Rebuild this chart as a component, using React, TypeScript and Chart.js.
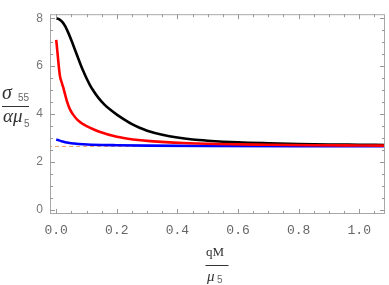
import React, { useEffect, useRef } from 'react';
import { Chart, registerables } from 'chart.js';

Chart.register(...registerables);

const blackX = [0, 0.01, 0.02, 0.03, 0.04, 0.05, 0.06, 0.07, 0.08, 0.09, 0.1, 0.11, 0.12, 0.14, 0.16, 0.18, 0.2, 0.225, 0.25, 0.275, 0.3, 0.35, 0.4, 0.45, 0.5, 0.6, 0.7, 0.8, 0.9, 1.0, 1.085];
const blackY = [8.0, 7.96, 7.85, 7.66, 7.39, 7.08, 6.75, 6.41, 6.08, 5.77, 5.49, 5.24, 5.02, 4.66, 4.38, 4.16, 3.97, 3.76, 3.57, 3.42, 3.3, 3.13, 3.01, 2.93, 2.88, 2.81, 2.77, 2.74, 2.72, 2.71, 2.7];

const redX = [0, 0.004, 0.008, 0.0125, 0.018, 0.023, 0.03, 0.035, 0.045, 0.056, 0.07, 0.089, 0.115, 0.145, 0.2, 0.254, 0.31, 0.42, 0.53, 0.7, 0.85, 1.0, 1.085];
const redY = [7.1, 6.6, 6.05, 5.57, 5.32, 5.12, 4.78, 4.55, 4.2, 3.97, 3.75, 3.57, 3.4, 3.24, 3.04, 2.93, 2.86, 2.78, 2.74, 2.71, 2.69, 2.68, 2.675];

const blueX = [0, 0.02, 0.035, 0.06, 0.09, 0.15, 0.2, 0.3, 0.5, 0.8, 1.085];
const blueY = [2.93, 2.85, 2.8, 2.76, 2.73, 2.7, 2.69, 2.675, 2.66, 2.65, 2.645];

const asymX = [-0.05, 1.2];
const asymY = [2.64, 2.64];

const xTicks = [0, 0.2, 0.4, 0.6, 0.8, 1.0];
const yTicks = [0, 2, 4, 6, 8];
const xMinorStep = 0.05;
const yMinorStep = 0.5;

const X_MIN = -0.0205;
const X_MAX = 1.085;
const Y_MIN = -0.188;
const Y_MAX = 8.172;

const pts = (xs: number[], ys: number[]) => xs.map((x, i) => ({ x, y: ys[i] }));

const framePlugin = {
  id: 'frameTicks',
  afterDatasetsDraw(chart: any) {
    const { ctx, chartArea } = chart;
    const xs = chart.scales.x;
    const ys = chart.scales.y;
    const { left, right, top, bottom } = chartArea;
    ctx.save();
    ctx.strokeStyle = '#a8a8a8';
    ctx.lineWidth = 1;
    ctx.strokeRect(left + 0.5, top + 0.5, right - left - 1, bottom - top - 1);
    ctx.strokeStyle = '#999';
    ctx.beginPath();
    for (let v = 0; v <= X_MAX + 1e-9; v += xMinorStep) {
      const major = Math.abs(v / 0.2 - Math.round(v / 0.2)) < 1e-6;
      const len = major ? 5 : 3;
      const px = Math.round(xs.getPixelForValue(v)) + 0.5;
      ctx.moveTo(px, bottom);
      ctx.lineTo(px, bottom - len);
      ctx.moveTo(px, top);
      ctx.lineTo(px, top + len);
    }
    for (let v = 0; v <= Y_MAX + 1e-9; v += yMinorStep) {
      const major = Math.abs(v / 2 - Math.round(v / 2)) < 1e-6;
      const len = major ? 5 : 3;
      const py = Math.round(ys.getPixelForValue(v)) + 0.5;
      ctx.moveTo(left, py);
      ctx.lineTo(left + len, py);
      ctx.moveTo(right, py);
      ctx.lineTo(right - len, py);
    }
    ctx.stroke();
    ctx.restore();
  },
  afterDraw(chart: any) {
    const { ctx } = chart;
    ctx.save();
    ctx.fillStyle = '#333';
    ctx.strokeStyle = '#333';
    ctx.lineWidth = 1;
    ctx.textBaseline = 'alphabetic';
    // y title: sigma_55 / alpha mu_5
    ctx.font = 'italic 20px "Liberation Serif"';
    ctx.fillText('σ', 2, 99);
    ctx.font = '10px "Liberation Sans"';
    ctx.fillStyle = '#666';
    ctx.fillText('55', 18, 101);
    ctx.beginPath();
    ctx.moveTo(2, 106.5);
    ctx.lineTo(29, 106.5);
    ctx.stroke();
    ctx.fillStyle = '#333';
    ctx.font = 'italic 19px "Liberation Serif"';
    ctx.fillText('αμ', 3, 122);
    ctx.font = '10px "Liberation Sans"';
    ctx.fillStyle = '#666';
    ctx.fillText('5', 24, 127);
    // x title: qM / mu_5
    ctx.fillStyle = '#333';
    ctx.font = '13px "Liberation Serif"';
    ctx.fillText('qM', 206, 256);
    ctx.beginPath();
    ctx.moveTo(205.5, 265.5);
    ctx.lineTo(228.5, 265.5);
    ctx.stroke();
    ctx.font = 'italic 15px "Liberation Serif"';
    ctx.fillText('μ', 207, 281);
    ctx.font = '10px "Liberation Sans"';
    ctx.fillStyle = '#666';
    ctx.fillText('5', 217, 283);
    ctx.restore();
  },
};

export default function App() {
  const ref = useRef<HTMLCanvasElement | null>(null);
  useEffect(() => {
    if (!ref.current) return;
    const chart = new Chart(ref.current, {
      type: 'line',
      data: {
        datasets: [
          { data: pts(redX, redY), borderColor: '#ff0000', borderWidth: 2.6, pointRadius: 0, cubicInterpolationMode: 'monotone', order: 0 },
          { data: pts(blackX, blackY), borderColor: '#000000', borderWidth: 2.6, pointRadius: 0, cubicInterpolationMode: 'monotone', order: 1 },
          { data: pts(blueX, blueY), borderColor: '#0000ff', borderWidth: 2.6, pointRadius: 0, cubicInterpolationMode: 'monotone', order: 2 },
          { data: pts(asymX, asymY), borderColor: '#f0a060', borderWidth: 1, borderDash: [4, 3], pointRadius: 0, order: 3 },
        ],
      } as any,
      options: {
        animation: false,
        responsive: false,
        maintainAspectRatio: false,
        layout: { padding: { top: 5, right: 4, left: 0, bottom: 0 } },
        plugins: { legend: { display: false }, tooltip: { enabled: false } },
        scales: {
          x: {
            type: 'linear',
            min: X_MIN,
            max: X_MAX,
            grid: { display: false, drawTicks: false },
            border: { display: false },
            afterBuildTicks: (s: any) => { s.ticks = xTicks.map((v) => ({ value: v })); },
            afterFit: (s: any) => { s.height = 71; },
            ticks: {
              padding: 9,
              color: '#666',
              font: { family: '"Liberation Mono"', size: 13 },
              maxRotation: 0,
              autoSkip: false,
              callback: (v: any) => Number(v).toFixed(1),
            },
          },
          y: {
            type: 'linear',
            min: Y_MIN,
            max: Y_MAX,
            grid: { display: false, drawTicks: false },
            border: { display: false },
            afterBuildTicks: (s: any) => { s.ticks = yTicks.map((v) => ({ value: v })); },
            afterFit: (s: any) => { s.width = 50; },
            ticks: {
              padding: 7,
              color: '#777',
              font: { family: '"Liberation Sans"', size: 12 },
              autoSkip: false,
              callback: (v: any) => String(Math.round(Number(v))),
            },
          },
        },
      } as any,
      plugins: [framePlugin],
    });
    return () => chart.destroy();
  }, []);
  return (
    <div style={{ position: 'absolute', left: 0, top: 0, width: 389, height: 285, background: '#fff' }}>
      <canvas ref={ref} width={389} height={285} style={{ display: 'block' }} />
    </div>
  );
}
